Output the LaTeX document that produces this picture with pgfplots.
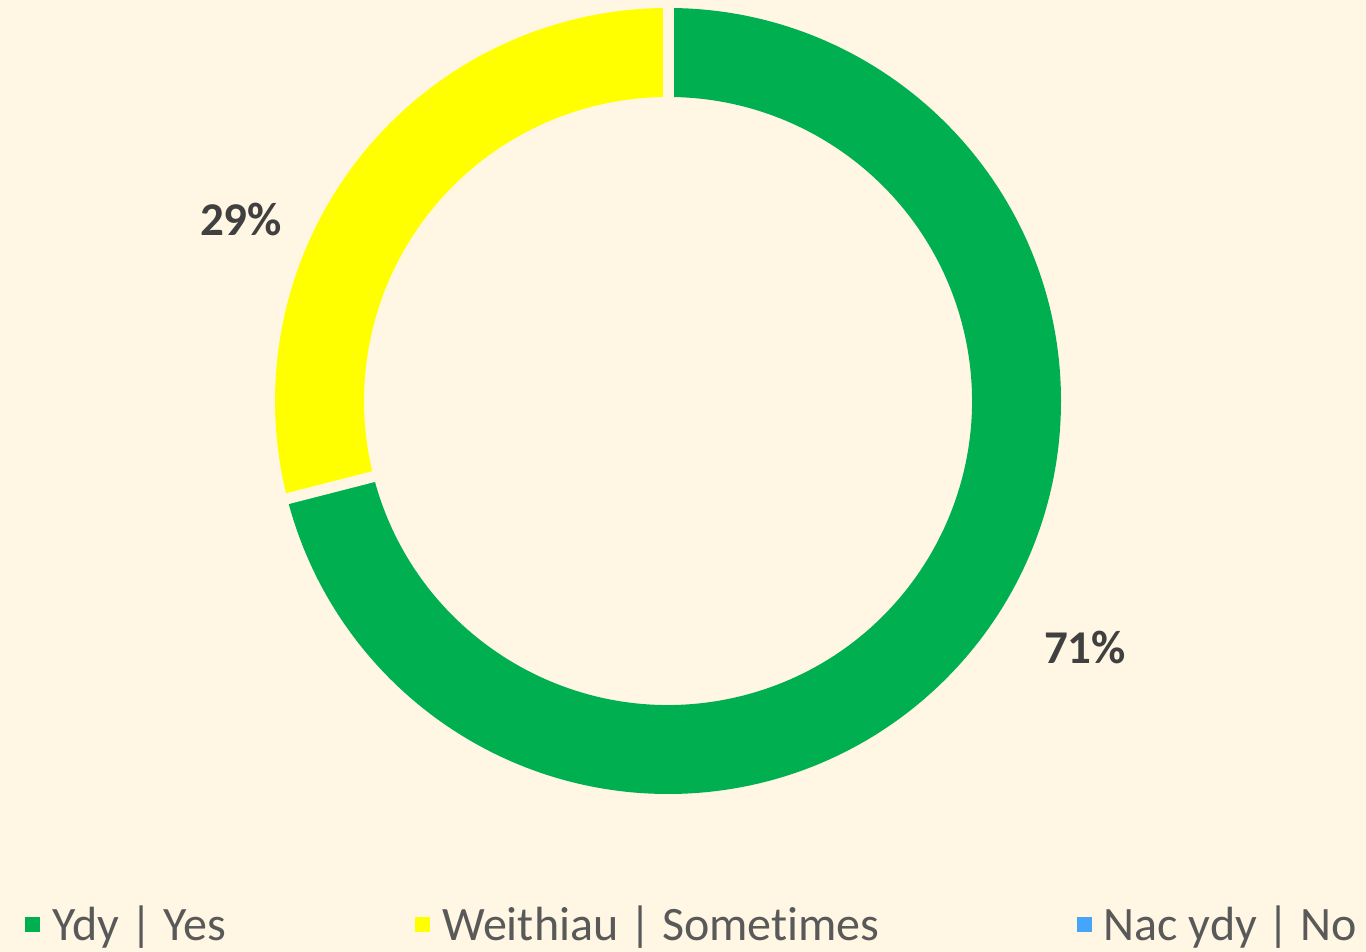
\documentclass[border=0pt]{standalone}
\usepackage{pgfplots}
\usepackage{pgfplotstable}
\pgfplotsset{compat=1.18}
\usepackage{fontspec}
\setmainfont{Carlito}[Ligatures={NoCommon}]
\definecolor{bg}{HTML}{FFF7E4}
\definecolor{cgreen}{HTML}{00B050}
\definecolor{cyellow}{HTML}{FFFF00}
\definecolor{cblue}{HTML}{45A5F8}
\definecolor{lbl}{HTML}{404040}
\definecolor{leg}{HTML}{595959}

\pgfplotstableread{
label value
Ydy 71
Weithiau 29
Nac 0
}\datatable

\begin{document}
\begin{tikzpicture}
\pgfplotstablegetelem{0}{value}\of\datatable \let\va\pgfplotsretval
\pgfplotstablegetelem{1}{value}\of\datatable \let\vb\pgfplotsretval
\pgfmathsetmacro\aA{90}
\pgfmathsetmacro\aB{90-3.6*\va}
\pgfmathsetmacro\aC{\aB-3.6*\vb}
\begin{axis}[name=ax,
  x=0.5pt, y=0.5pt, xmin=0, xmax=1366, ymin=0, ymax=952,
  hide axis, clip=false, scale only axis,
  legend columns=3,
  legend style={at={(axis cs:25,27)}, anchor=west, draw=none, fill=none, inner sep=0pt,
    font=\fontsize{24}{29}\selectfont, text=leg,
    /tikz/every odd column/.style={column sep=4pt},
    /tikz/column 2/.style={column sep=92.5pt},
    /tikz/column 4/.style={column sep=96.5pt}},
  legend image code/.code={\fill[#1] (0pt,-3.75pt) rectangle (7.5pt,3.75pt);},
]
\fill[bg] (axis cs:0,0) rectangle (axis cs:1366,952);
\addlegendimage{fill=cgreen, draw=none}
\addlegendentry{Ydy | Yes}
\addlegendimage{fill=cyellow, draw=none}
\addlegendentry{Weithiau | Sometimes}
\addlegendimage{fill=cblue, draw=none}
\addlegendentry{Nac ydy | No}
% green sector
\fill[cgreen] (axis cs:668,551) ++(\aA:196.5pt) arc[start angle=\aA, end angle=\aB, radius=196.5pt]
  -- ++(\aB+180:44.5pt) arc[start angle=\aB, end angle=\aA, radius=152pt] -- cycle;
% yellow sector
\fill[cyellow] (axis cs:668,551) ++(\aB:196.5pt) arc[start angle=\aB, end angle=\aC, radius=196.5pt]
  -- ++(\aC+180:44.5pt) arc[start angle=\aC, end angle=\aB, radius=152pt] -- cycle;
% separators
\draw[bg, line width=5.5pt] (axis cs:668,551) -- ++(\aA:200pt);
\draw[bg, line width=5.5pt] (axis cs:668,551) -- ++(\aB:200pt);
% data labels
\node[font=\bfseries\fontsize{23.5}{28}\selectfont, text=lbl] at (axis cs:241,732) {\vb\%};
\node[font=\bfseries\fontsize{23.5}{28}\selectfont, text=lbl] at (axis cs:1085,304) {\va\%};
\end{axis}
\pgfresetboundingbox
\path[use as bounding box] (ax.south west) rectangle (ax.north east);
\end{tikzpicture}
\end{document}
